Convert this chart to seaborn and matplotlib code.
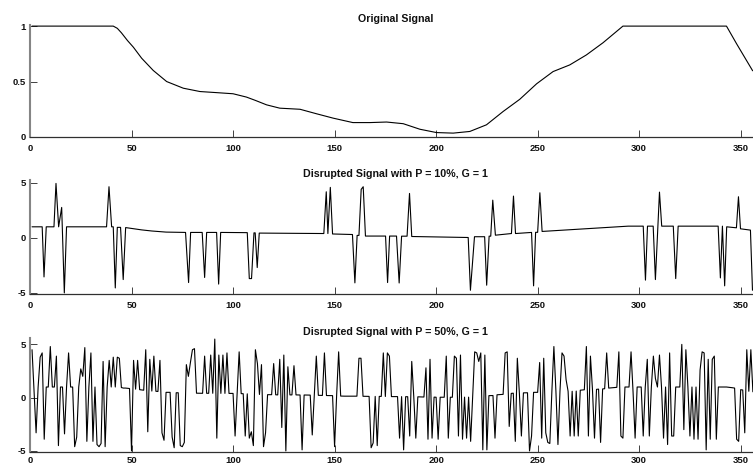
import matplotlib
matplotlib.use("Agg")
import matplotlib.pyplot as plt
import numpy as np
import seaborn as sns

# ---------------- data ----------------
orig_x = [1, 41, 43, 45, 48, 50.9, 55, 60.7, 67.3, 75.5, 83.7, 92, 100, 106.6, 111, 116.5, 123,
          133, 141, 149.3, 159, 167.4, 175.6, 183.8, 192, 200.2, 208.4, 216.6, 224.8,
          233, 241.2, 249.5, 257.6, 265.8, 274, 282.2, 292, 343, 348, 355.8, 360]
orig_y = [1.0, 1.0, 0.98, 0.94, 0.87, 0.81, 0.71, 0.60, 0.50, 0.44, 0.41, 0.40, 0.39, 0.36, 0.33, 0.29, 0.26,
          0.25, 0.21, 0.17, 0.13, 0.13, 0.135, 0.12, 0.07, 0.04, 0.035, 0.05, 0.11,
          0.23, 0.34, 0.48, 0.59, 0.65, 0.74, 0.85, 1.0, 1.0, 0.84, 0.60, 0.55]

p10_x = [1, 6, 6.9, 8, 11.8, 12.8, 14.1, 15.6, 16.9, 18, 37.7, 38.9, 40.2, 41, 42, 43,
         44.6, 45.9, 47.1, 55, 60, 67, 76.6, 78.1, 79.1, 84.8, 86, 87, 91.9, 92.9, 93.9,
         107, 108, 109.1, 110.3, 110.9, 111.9, 112.9, 144.7, 145.9, 146.7, 147.9, 149,
         158.8, 160, 161.1, 162, 163.1, 164.1, 165.2, 175.1, 176.1, 177.1, 180.5, 181.8,
         183, 185.7, 186.9, 188, 215.8, 216.9, 218.9, 223.9, 224.9, 226.1, 226.9, 227.9,
         229.2, 237.1, 238.1, 239.1, 247, 248, 249, 250, 251.1, 252.2, 294.6, 302, 303.1,
         304.1, 306.9, 308, 310, 311.1, 316.8, 318, 319.2, 338.9, 340, 341, 342.1, 343.1,
         347.9, 348.9, 349.9, 354.8, 355.8]
p10_y = [1.0, 1.0, -3.55, 1.0, 1.0, 4.94, 1.0, 2.76, -5.0, 1.0, 1.0, 4.64, 1.0, 1.0, -4.55, 0.95,
         0.95, -3.79, 0.93, 0.72, 0.62, 0.52, 0.49, -4.06, 0.49, 0.49, -3.6, 0.49, 0.49, -4.2, 0.49,
         0.47, -3.7, -3.7, 0.45, 0.45, -2.7, 0.43, 0.39, 4.18, 0.39, 4.58, 0.35,
         0.3, -4.09, 0.22, 0.22, 4.4, 4.64, 0.16, 0.16, -4.06, 0.16, 0.16, -4.1,
         0.15, 0.15, 4.03, 0.12, 0.03, -4.76, 0.1, 0.1, -4.3, 0.15, 0.15, 3.42,
         0.24, 0.39, 3.79, 0.39, 0.49, -4.36, 0.5, 0.5, 4.09, 0.58, 1.06, 1.06, -3.84,
         1.06, 1.06, -3.79, 4.15, 1.06, 1.06, -3.7, 1.06, 1.06, -3.64, 1.06, -4.36, 1.0,
         0.91, 3.73, 0.82, 0.7, -4.76]

p50_y = [
    4.5, 0.6, -3.3, 1.0, 3.8, 4.2, -3.9, 1.0, 1.0, 4.8,
    1.0, 1.0, 3.9, -4.5, 1.0, 1.0, -3.4, 1.0, 4.2, 1.0,
    1.0, -4.6, -3.7, 1.0, 2.7, 2.0, 4.7, -4.1, 1.0, 4.2,
    -4.1, 1.0, -4.4, -4.6, -4.3, 3.4, -4.6, 1.0, 3.5, 1.0,
    3.8, 1.0, 3.8, 3.7, 0.95, 0.9, 0.9, 0.88, 0.86, -5.0,
    3.5, 0.8, 3.5, 0.75, 0.72, 0.7, 4.5, -3.2, 3.6, 0.62,
    3.9, 0.6, 0.58, 3.5, -3.3, -4.0, 0.5, 0.5, 0.5, -3.7,
    -4.7, 0.46, 0.46, -4.5, -4.6, -4.2, 3.1, 2.0, 3.3, 4.5,
    4.6, 0.42, 0.42, 0.42, 0.41, 3.9, 0.41, 0.41, 4.0, 0.41,
    5.5, -3.8, 4.0, 0.4, 4.0, 0.4, 4.2, 0.4, 0.4, 0.4,
    -3.6, 0.4, 4.3, 0.38, 0.37, -3.6, 0.36, -3.8, -3.2, -4.5,
    4.5, 3.2, 0.3, 3.1, -4.6, -3.3, 0.28, 0.28, 0.28, 3.2,
    0.27, 0.26, 3.6, -2.8, 4.0, -5.0, 2.9, 0.26, 0.26, 3.0,
    0.26, 0.25, 0.25, -4.9, 0.25, 0.25, 0.24, 0.24, -3.5, 0.23,
    3.9, 0.22, 0.22, 0.21, 4.2, 0.2, 0.2, 0.2, 0.19, -4.6,
    0.18, 4.3, 0.15, 0.14, 0.14, 0.14, 0.14, 0.14, 0.14, 0.14,
    0.14, 3.7, 3.7, 0.13, 0.13, 0.12, 0.12, -4.7, -4.25, 0.12,
    -4.5, 0.12, 0.12, 4.2, 0.11, 4.2, 3.9, 0.1, 0.1, 0.1,
    0.1, -3.8, 0.1, -4.9, 0.09, 0.09, -3.6, 3.4, 0.08, -3.8,
    0.08, 0.07, 0.06, 0.06, 2.8, -3.9, 3.6, -3.8, 0.05, 0.04,
    -3.9, 0.04, 0.04, 0.04, 3.9, -3.8, 0.04, 0.04, 3.9, 3.7,
    -3.6, 4.0, -3.9, 0.05, -3.8, 0.05, -4.1, 0.06, 4.3, 4.2,
    3.4, 4.2, -4.9, 4.0, -4.9, 0.19, 0.19, 0.2, -3.8, 0.27,
    0.28, 0.3, 0.31, 4.2, 4.3, -2.7, 0.4, 0.42, -4.1, 3.7,
    0.43, -3.6, 0.45, 0.45, 0.46, -5.0, -3.6, 0.5, 0.5, 0.5,
    3.3, -3.8, 3.7, -3.3, -4.2, -4.3, 0.55, 4.8, 0.6, -4.4,
    0.6, 4.2, 3.9, 1.7, 0.6, -3.6, 0.6, -3.6, 0.62, -3.6,
    0.7, 0.72, 0.74, 4.8, -3.6, 3.9, 0.76, -3.8, 0.78, 0.8,
    -4.2, 0.82, 0.84, 4.2, 0.9, 0.92, 0.93, 0.95, 0.97, 4.3,
    -3.6, -3.8, 1.0, 1.0, 1.0, 4.3, 0.5, -3.8, 1.0, 1.0,
    1.0, -3.6, 1.0, 3.6, -3.6, 1.0, 3.9, 1.8, 1.0, 4.0,
    1.0, -3.8, 1.0, -4.4, 4.2, -3.6, -3.6, 1.0, 1.0, 1.0,
    5.0, -3.0, 4.5, 1.0, -3.6, 1.0, -3.9, 1.0, -3.9, 2.6,
    4.3, 4.2, -4.9, 3.6, -3.9, 3.6, 3.9, -3.9, 1.0, 1.0,
    1.0, 1.0, 1.0, 0.98, 0.96, 0.93, 0.9, -3.9, -4.1, 0.75,
    0.72, -3.3, 4.5, 0.6, 4.5, 0.55, 4.0, 0.5, -3.5, 0.45,
]
p50_x = list(range(1, len(p50_y) + 1))

titles = ["Original Signal",
          "Disrupted Signal with P = 10%, G = 1",
          "Disrupted Signal with P = 50%, G = 1"]
x_ticks = [0, 50, 100, 150, 200, 250, 300, 350]
y_ticks_top = [0, 0.5, 1]
y_labels_top = ["0", "0.5", "1"]
y_ticks_noise = [-5, 0, 5]

# ---------------- style ----------------
sns.set_theme(style="ticks")
plt.rcParams["font.family"] = ["Liberation Sans", "DejaVu Sans"]
plt.rcParams["font.weight"] = "bold"

W, H = 753, 466
fig = plt.figure(figsize=(W / 100, H / 100), dpi=100)


def add_ax(top, bottom):
    return fig.add_axes([30 / W, 1 - bottom / H, 731 / W, (bottom - top) / H])


ax1 = add_ax(25, 137)
ax2 = add_ax(180, 294)
ax3 = add_ax(338, 452)

sns.lineplot(x=orig_x, y=orig_y, ax=ax1, color="black", linewidth=0.8,
             estimator=None, sort=False)
sns.lineplot(x=p10_x, y=p10_y, ax=ax2, color="black", linewidth=0.8,
             estimator=None, sort=False)
sns.lineplot(x=p50_x, y=p50_y, ax=ax3, color="black", linewidth=0.8,
             estimator=None, sort=False)

ylims = [(0, 1.01), (-5.1, 5.25), (-5.1, 5.6)]
for ax, title, yl in zip([ax1, ax2, ax3], titles, ylims):
    ax.set_xlim(0, 360)
    ax.set_ylim(*yl)
    ax.set_xticks(x_ticks)
    ax.set_xticklabels([str(t) for t in x_ticks])
    ax.set_xlabel("")
    ax.set_ylabel("")
    for s in ["top", "right"]:
        ax.spines[s].set_visible(False)
    ax.spines["left"].set_color("#858585")
    ax.spines["left"].set_linewidth(1.5)
    ax.spines["bottom"].set_color("#303030")
    ax.spines["bottom"].set_linewidth(0.9)
    ax.tick_params(axis="both", direction="in", length=4.8, width=0.7,
                   color="#404040", labelsize=6.8, labelcolor="#111111")
    ax.tick_params(axis="x", pad=5.0)
    ax.tick_params(axis="y", pad=3)
    ax.set_title(title, fontsize=7.7, fontweight="bold", pad=2, color="#111111")

ax3.tick_params(axis="x", pad=3.0)

ax1.set_yticks(y_ticks_top)
ax1.set_yticklabels(y_labels_top)
for ax in (ax2, ax3):
    ax.set_yticks(y_ticks_noise)
    ax.set_yticklabels([str(t) for t in y_ticks_noise])

fig.savefig("out.png", dpi=100)
